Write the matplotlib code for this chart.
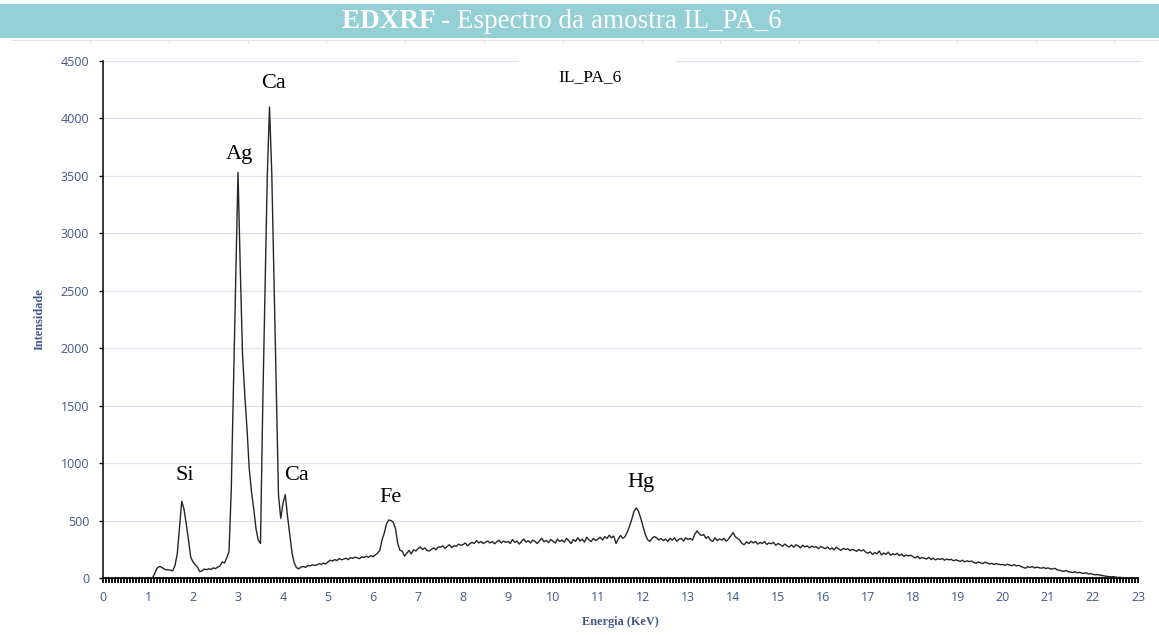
import numpy as np
import matplotlib
matplotlib.use("Agg")
import matplotlib.pyplot as plt
from matplotlib.ticker import MultipleLocator
from matplotlib.patches import Rectangle

# ---- spectrum data (counts per 0.05 keV channel, one row per keV) ----
channel_kev = 0.05
counts_rows = [
    [0, 0, 0, 0, 0, 0, 0, 0, 0, 0, 0, 0, 0, 0, 0, 0, 0, 0, 0, 0],
    [0, 0, 0, 40, 85, 100, 95, 80, 72, 70, 68, 62, 110, 210, 440, 668, 600, 470, 330, 180],
    [140, 115, 95, 55, 62, 78, 72, 80, 75, 88, 82, 95, 105, 140, 130, 175, 230, 760, 1670, 2600],
    [3530, 2700, 1950, 1600, 1300, 950, 750, 600, 430, 330, 300, 1500, 2495, 3490, 4100, 3530, 2590, 1650, 720, 520],
    [650, 725, 540, 380, 220, 130, 90, 80, 95, 100, 92, 108, 105, 115, 110, 112, 125, 118, 130, 122],
    [140, 155, 148, 160, 152, 170, 158, 165, 172, 160, 178, 170, 182, 175, 168, 185, 178, 190, 180, 195],
    [185, 200, 215, 240, 330, 390, 470, 505, 500, 485, 430, 300, 240, 235, 190, 215, 240, 210, 245, 235],
    [255, 270, 248, 262, 240, 235, 250, 262, 245, 270, 268, 280, 258, 275, 290, 265, 282, 275, 295, 285],
    [290, 305, 280, 298, 310, 300, 325, 305, 318, 300, 312, 322, 305, 318, 298, 315, 330, 305, 322, 310],
    [318, 300, 335, 310, 322, 295, 318, 340, 312, 325, 305, 330, 318, 300, 322, 345, 315, 328, 308, 335],
    [320, 305, 338, 318, 330, 312, 345, 325, 300, 335, 318, 350, 322, 338, 312, 355, 330, 318, 345, 325],
    [340, 355, 330, 360, 345, 372, 350, 365, 300, 340, 370, 345, 360, 400, 450, 510, 580, 610, 580, 520],
    [450, 380, 335, 318, 345, 360, 350, 330, 345, 325, 340, 318, 345, 330, 350, 320, 338, 345, 322, 350],
    [335, 345, 330, 380, 410, 385, 370, 378, 345, 360, 330, 318, 350, 325, 340, 330, 345, 320, 340, 365],
    [395, 360, 345, 330, 300, 290, 315, 300, 320, 305, 318, 295, 310, 300, 318, 292, 305, 298, 310, 285],
    [300, 290, 275, 295, 280, 270, 288, 268, 290, 278, 262, 285, 270, 280, 262, 278, 268, 272, 255, 275],
    [265, 255, 270, 250, 262, 245, 268, 252, 240, 258, 248, 255, 238, 250, 242, 232, 248, 235, 245, 225],
    [215, 228, 205, 222, 210, 235, 200, 218, 205, 225, 198, 212, 202, 215, 195, 208, 188, 200, 192, 198],
    [185, 175, 190, 168, 178, 172, 165, 180, 160, 172, 158, 168, 162, 170, 155, 165, 158, 162, 150, 158],
    [152, 145, 155, 140, 150, 142, 148, 135, 128, 140, 132, 125, 138, 130, 122, 128, 118, 125, 120, 115],
    [118, 110, 120, 112, 108, 115, 105, 110, 100, 92, 85, 98, 92, 100, 88, 95, 90, 85, 92, 82],
    [88, 80, 78, 85, 72, 68, 62, 58, 65, 55, 52, 48, 55, 45, 50, 42, 40, 45, 35, 38],
    [32, 28, 30, 25, 22, 18, 15, 12, 10, 12, 8, 5, 6, 3, 2, 0, 0, 0, 0, 0],
    [0],
]

# element labels and where they sit (keV, intensity)
peak_names = ["Si", "Ag", "Ca", "Ca", "Fe", "Hg"]
peak_label_x = [1.82, 3.04, 3.78, 4.31, 6.40, 11.96]
peak_label_y = [896, 3682, 4308, 896, 705, 827]

y_ticks = [0, 500, 1000, 1500, 2000, 2500, 3000, 3500, 4000, 4500]
x_ticks = list(range(0, 24))

title_bold = "EDXRF - "
title_rest = "Espectro da amostra IL_PA_6"
sample_name = "IL_PA_6"

counts = np.concatenate([np.asarray(r, dtype=float) for r in counts_rows])
energy = np.arange(len(counts)) * channel_kev

# ---- figure ----
W, H = 1159, 635
fig = plt.figure(figsize=(W / 100, H / 100), dpi=100)
fig.patch.set_facecolor("white")

ax_left, ax_right, ax_top, ax_bottom = 103, 1138, 61, 578
ax = fig.add_axes([ax_left / W, 1 - ax_bottom / H,
                   (ax_right - ax_left) / W, (ax_bottom - ax_top) / H])

label_color = "#44578A"
grid_color = "#DCE3EC"

ax.plot(energy, counts, color="#262626", lw=1.0, zorder=3, solid_joinstyle="round")

ax.set_xlim(0, 23)
ax.set_ylim(0, 4500)
ax.set_xticks(x_ticks)
ax.set_yticks(y_ticks)
ax.xaxis.set_minor_locator(MultipleLocator(1 / 15))

for v in y_ticks[1:]:
    ax.axhline(v, color=grid_color, lw=0.9, zorder=1, clip_on=False,
               xmax=1.003)

for s in ("top", "right"):
    ax.spines[s].set_visible(False)
ax.spines["left"].set_color("black")
ax.spines["left"].set_linewidth(1.1)
ax.spines["bottom"].set_color("black")
ax.spines["bottom"].set_linewidth(1.3)

ax.tick_params(axis="y", direction="out", length=3, width=1, color="black",
               pad=7, labelcolor=label_color)
ax.tick_params(axis="x", which="both", direction="out", length=3.8, width=1.3,
               color="black", pad=5.5, labelcolor=label_color)
for lab in ax.get_xticklabels() + ax.get_yticklabels():
    lab.set_fontfamily("Open Sans")
    lab.set_fontsize(9)

axis_label_font = dict(family="Liberation Serif", size=8.8, weight="bold",
                       color=label_color)
ax.set_xlabel("Energia (KeV)", labelpad=9, **axis_label_font)
ax.set_ylabel("Intensidade", labelpad=11, **axis_label_font)

for name, lx, ly in zip(peak_names, peak_label_x, peak_label_y):
    ax.text(lx, ly, name, ha="center", va="center", fontsize=16,
            family="Liberation Serif", color="black", zorder=4)

# sample name box over the top gridline
fig.patches.append(Rectangle((519 / W, 1 - 92 / H), (675 - 519) / W, 40 / H,
                             transform=fig.transFigure, facecolor="white",
                             edgecolor="none", zorder=2))
fig.text(590 / W, 1 - 77 / H, sample_name, ha="center", va="center",
         fontsize=12.5, family="Liberation Serif", color="black", zorder=3)

# header banner
fig.patches.append(Rectangle((0, 1 - 38 / H), 1, 34 / H, transform=fig.transFigure,
                             facecolor="#95D0D6", edgecolor="none", zorder=2))
fig.patches.append(Rectangle((11 / W, 1 - 41 / H), 1 - 11 / W, 1 / H,
                             transform=fig.transFigure, facecolor="#E2E4E6",
                             edgecolor="none", zorder=2))
for k in range(14):
    tx = 90 + 78.8 * k
    fig.patches.append(Rectangle((tx / W, 1 - 44 / H), 1 / W, 4 / H,
                                 transform=fig.transFigure, facecolor="#E2E4E6",
                                 edgecolor="none", zorder=2))

t1 = fig.text(0, 0, title_bold, fontsize=19.5, family="Liberation Serif",
              weight="bold", color="white")
t2 = fig.text(0, 0, title_rest, fontsize=19.5, family="Liberation Serif",
              color="white")
fig.canvas.draw()
r = fig.canvas.get_renderer()
w1 = t1.get_window_extent(r).width
w2 = t2.get_window_extent(r).width
start = 562 - (w1 + w2) / 2
t1.set_position((start / W, 1 - 21 / H))
t1.set_va("center")
t2.set_position(((start + w1) / W, 1 - 21 / H))
t2.set_va("center")
t1.set_zorder(3)
t2.set_zorder(3)

fig.savefig("out.png", dpi=100)
